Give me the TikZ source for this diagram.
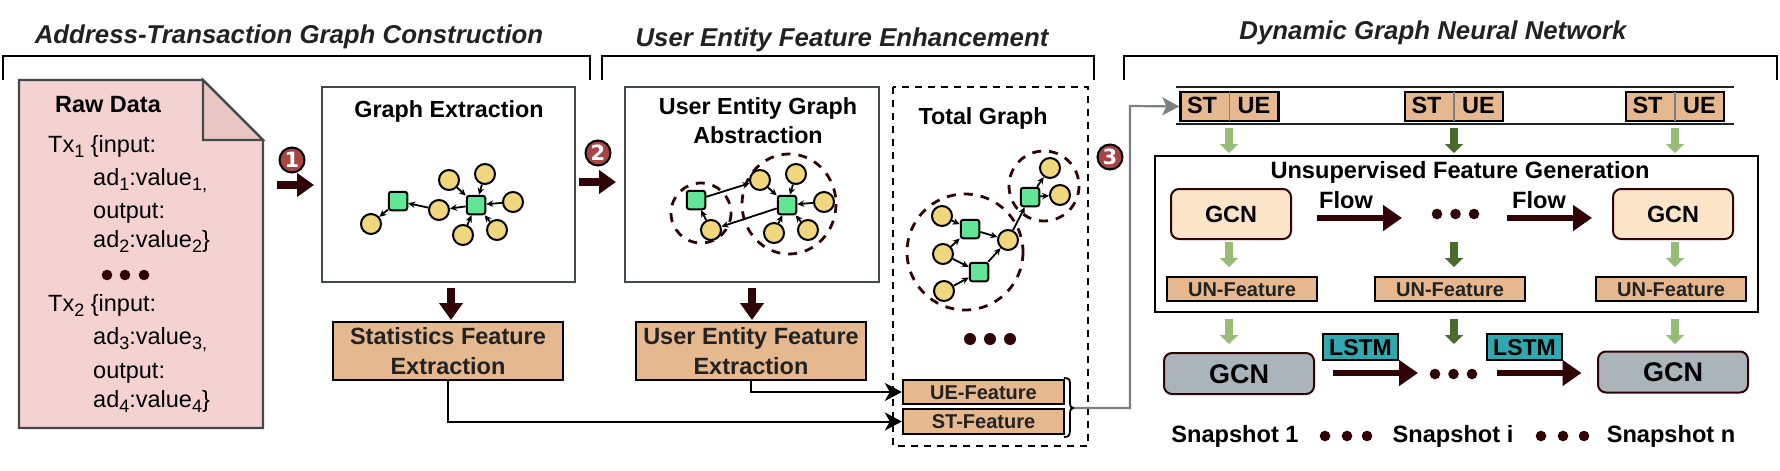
\documentclass[tikz,border=0pt]{standalone}
\usepackage{fontspec}
\setmainfont{Liberation Sans}
\newfontfamily\badgefont{DejaVu Sans}
\usetikzlibrary{arrows.meta}
\definecolor{dkred}{HTML}{300306}
\definecolor{feat}{HTML}{E6B88F}
\definecolor{docpink}{HTML}{F5D2D2}
\definecolor{docfold}{HTML}{E8C6C4}
\definecolor{edgegray}{HTML}{454849}
\definecolor{nodey}{HTML}{F0D67C}
\definecolor{nodeg}{HTML}{62E595}
\definecolor{lgreen}{HTML}{97BC78}
\definecolor{dgreen}{HTML}{4A6B2E}
\definecolor{gcnor}{HTML}{FCE4C8}
\definecolor{gcngr}{HTML}{AAB4B9}
\definecolor{lstmc}{HTML}{2FA8B0}
\definecolor{txtd}{HTML}{222222}
\definecolor{badgered}{HTML}{A84444}
\definecolor{gconnc}{HTML}{7C8084}
\newcommand\fsz[2]{\fontsize{#1}{#2}\selectfont}
\newcommand\subs[1]{\raisebox{-5pt}{\fsz{18}{18}#1}}
\tikzset{
  headtitle/.style={anchor=base,inner sep=0,font=\fsz{25.8}{30}\bfseries\itshape,text=txtd},
  bracketline/.style={line width=2pt,black},
  doctext/.style={anchor=base west,inner sep=0,font=\fsz{23.5}{28}},
  boxtitle/.style={anchor=base,inner sep=0,font=\fsz{23.3}{28}\bfseries},
  panel/.style={draw=edgegray,line width=2.2pt,inner sep=0},
  featbox/.style={draw=black,line width=2.4pt,fill=feat,inner sep=0,align=center,text=txtd,font=\fsz{23.5}{30}\bfseries},
  smallfeat/.style={draw=black,line width=2.4pt,fill=feat,inner sep=0,text=txtd,font=\fsz{20}{24}\bfseries,text height=14pt,text depth=0pt},
  pairbox/.style={draw=black,line width=2.4pt,fill=feat,inner sep=0,minimum width=98,minimum height=29},
  pairtxt/.style={anchor=base,inner sep=0,font=\fsz{23.5}{26}\bfseries,text=black},
  ynode/.style={circle,draw=black,line width=2pt,fill=nodey,minimum size=20,inner sep=0},
  gnode/.style={rectangle,rounded corners=2.5pt,draw=black,line width=2pt,fill=nodeg,minimum size=18.5,inner sep=0},
  edge/.style={line width=1.8pt,black,-{Stealth[length=7pt,width=6.5pt]}},
  grp/.style={dkred,line width=2.8pt,dash pattern=on 9pt off 8pt},
  barrow/.style={dkred,line width=7.5pt,-{Triangle[length=17pt,width=23pt]}},
  longarrow/.style={dkred,line width=6pt,-{Triangle[length=19pt,width=25pt]}},
  lgarrow/.style={lgreen,line width=7.5pt,-{Triangle[length=9pt,width=18pt]}},
  dgarrow/.style={dgreen,line width=7.5pt,-{Triangle[length=9pt,width=18pt]}},
  badge/.style={circle,draw=black,line width=2pt,fill=badgered,minimum size=25,inner sep=0,text=white,font=\badgefont\fsz{21}{24}\bfseries},
  conn/.style={line width=2pt,black,-{Stealth[length=17pt,width=18pt,inset=5pt]}},
  gconn/.style={line width=2.2pt,color=gconnc,-{Stealth[length=17pt,width=18pt,inset=4pt]}},
  gcnA/.style={rectangle,rounded corners=8pt,draw=dkred,line width=2pt,fill=gcnor,minimum width=120,minimum height=50,inner sep=0,font=\fsz{23.4}{28}\bfseries,text height=17pt,text depth=0pt},
  gcnB/.style={rectangle,rounded corners=8pt,draw=dkred,line width=2pt,fill=gcngr,minimum width=150,minimum height=41,inner sep=0,font=\fsz{27}{30}\bfseries,text height=19pt,text depth=0pt},
  lstmbox/.style={draw=black,line width=2.4pt,fill=lstmc,minimum width=75,minimum height=26,inner sep=0,font=\fsz{23}{26}\bfseries,text height=16.5pt,text depth=0pt},
  plainlab/.style={anchor=base,inner sep=0,font=\fsz{23.6}{28}\bfseries},
  dotfill/.style={fill=dkred}
}
\begin{document}
\begin{tikzpicture}[x=1pt,y=-1pt]
\useasboundingbox (0,0) rectangle (1780,471);
% titles and brackets
\node[headtitle] (t1) at (289,43) {Address-Transaction Graph Construction};
\node[headtitle] (t2) at (842,46) {User Entity Feature Enhancement};
\node[headtitle] (t3) at (1433,39) {Dynamic Graph Neural Network};
\draw[bracketline] (3,80) -- (3,56) -- (590,56) -- (590,80);
\draw[bracketline] (602,80) -- (602,56) -- (1094,56) -- (1094,80);
\draw[bracketline] (1124,80) -- (1124,56) -- (1777,56) -- (1777,80);
% raw data document
\draw[edgegray,line width=2.2pt,fill=docpink] (19,80) -- (203,80) -- (263,140) -- (263,428) -- (19,428) -- cycle;
\draw[edgegray,line width=2.2pt,fill=docfold] (203,80) -- (263,140) -- (203,140) -- cycle;
\node[anchor=base,inner sep=0,font=\fsz{23.5}{28}\bfseries] (rawt) at (108,112) {Raw Data};
\node[doctext] (l1) at (48,152) {Tx\subs{1} \{input:};
\node[doctext] (l2) at (93,185) {ad\subs{1}:value\subs{1,}};
\node[doctext] (l3) at (93,218) {output:};
\node[doctext] (l4) at (93,247) {ad\subs{2}:value\subs{2}\}};
\foreach \x in {107,125,144} \fill[dotfill] (\x,275) circle (5.3);
\node[doctext] (l5) at (48,311) {Tx\subs{2} \{input:};
\node[doctext] (l6) at (93,344) {ad\subs{3}:value\subs{3,}};
\node[doctext] (l7) at (93,378) {output:};
\node[doctext] (l8) at (93,407) {ad\subs{4}:value\subs{4}\}};
% graph extraction
\node[panel,minimum width=253,minimum height=195] (gbox) at (448.5,184.5) {};
\node[boxtitle] (gtitle) at (449,117) {Graph Extraction};
\node[ynode] (a1) at (449,180) {};
\node[ynode] (a2) at (485,174) {};
\node[ynode] (a3) at (513,202) {};
\node[ynode] (a4) at (497,230) {};
\node[ynode] (a5) at (463,235) {};
\node[ynode] (a6) at (439,210) {};
\node[ynode] (a7) at (371,224) {};
\node[gnode] (as1) at (476,205) {};
\node[gnode] (as2) at (398,201) {};
\foreach \s/\t in {a1/as1,a2/as1,a3/as1,a4/as1,a5/as1,as1/a6,a6/as2,as2/a7} \draw[edge] (\s) -- (\t);
% user entity abstraction
\node[panel,minimum width=254,minimum height=195] (ubox) at (752,184.5) {};
\node[boxtitle] (ut1) at (758,114) {User Entity Graph};
\node[boxtitle] (ut2) at (758,143) {Abstraction};
\draw[grp] (701,213) ellipse (30 and 30);
\draw[grp] (789,204) ellipse (47 and 50);
\node[gnode] (bs1) at (696,200) {};
\node[ynode] (b0) at (711,230) {};
\node[ynode] (b1) at (760,180) {};
\node[ynode] (b2) at (796,174) {};
\node[ynode] (b3) at (824,202) {};
\node[ynode] (b4) at (808,230) {};
\node[ynode] (b5) at (774,233) {};
\node[gnode] (bs2) at (787,205) {};
\foreach \s/\t in {bs1/b1,b1/bs2,b2/bs2,b3/bs2,b4/bs2,b5/bs2,bs2/b0,b0/bs1} \draw[edge] (\s) -- (\t);
% total graph
\draw[black,line width=1.8pt,dash pattern=on 7pt off 6pt] (893,87) rectangle (1088,446);
\node[boxtitle] (tt) at (983,124) {Total Graph};
\draw[grp] (965,252) ellipse (58 and 58);
\draw[grp] (1044,186) ellipse (35 and 35);
\node[ynode] (c1) at (942,216) {};
\node[ynode] (c2) at (943,254) {};
\node[ynode] (c3) at (944,291) {};
\node[ynode] (c4) at (1008,240) {};
\node[ynode] (c5) at (1050,168) {};
\node[ynode] (c6) at (1060,195) {};
\node[gnode] (cs1) at (970,229) {};
\node[gnode] (cs2) at (979,272) {};
\node[gnode] (cs3) at (1030,197) {};
\foreach \s/\t in {c1/cs1,c2/cs1,cs1/c4,c2/cs2,c3/cs2,cs2/c4,c4/cs3,cs3/c5,cs3/c6} \draw[edge] (\s) -- (\t);
\foreach \x in {970,990,1010} \fill[dotfill] (\x,339) circle (6);
% feature boxes
\node[featbox,minimum width=230,minimum height=58] (statbox) at (448,351) {Statistics Feature\\Extraction};
\node[featbox,minimum width=230,minimum height=58] (uebox) at (751,351) {User Entity Feature\\Extraction};
\node[smallfeat,minimum width=161,minimum height=24] (uefeat) at (983.5,392) {UE-Feature};
\node[smallfeat,minimum width=161,minimum height=25] (stfeat) at (983.5,421.5) {ST-Feature};
\draw[conn] (statbox.south) |- (stfeat.west);
\draw[conn] (uebox.south) |- (uefeat.west);
% brace and grey connector
\coordinate (btip) at (1074,408);
\coordinate (gx) at (1130,106);
\draw[black,line width=1.8pt] (1064,378) .. controls (1070,378) and (1070,380) .. (1070,386) -- (1070,402) .. controls (1070,407) and (1071,408) .. (btip) .. controls (1071,408) and (1070,409) .. (1070,414) -- (1070,430) .. controls (1070,436) and (1068,437) .. (1064,437);
% block arrows and badges
\coordinate (ar1s) at (277,185); \coordinate (ar1e) at (314,185);
\coordinate (ar2s) at (579,182); \coordinate (ar2e) at (616,182);
\coordinate (ar3s) at (451,288); \coordinate (ar3e) at (451,320);
\coordinate (ar4s) at (752,288); \coordinate (ar4e) at (752,320);
\foreach \s/\t in {ar1s/ar1e,ar2s/ar2e,ar3s/ar3e,ar4s/ar4e} \draw[barrow] (\s) -- (\t);
\node[badge] (bd1) at (292,160) {1};
\node[badge] (bd2) at (598,153) {2};
\node[badge] (bd3) at (1110,157) {3};
% dynamic graph neural network
\draw[txtd,line width=2.4pt] (1176,87) -- (1734,87);
\draw[txtd,line width=2.4pt] (1176,124) -- (1734,124);
\node[pairbox] (p1) at (1229.5,106.5) {};
\node[pairbox] (p2) at (1454,106.5) {};
\node[pairbox] (p3) at (1675,106.5) {};
\foreach \p/\x in {p1/1229.5,p2/1454,p3/1675} {
  \draw[gconnc,line width=1.6pt] ([yshift=-1pt]\p.north) -- ([yshift=1pt]\p.south);
  \node[pairtxt] at (\x-27.5,113) {ST};
  \node[pairtxt] at (\x+24.5,113) {UE};
}
\draw[gconn] (btip) -| (gx) -- (p1.west);
\node[draw=black,line width=2.6pt,inner sep=0,minimum width=603,minimum height=156] (unsup) at (1456.5,234) {};
\node[boxtitle,font=\fsz{23.6}{28}\bfseries] (utitle) at (1460,178) {Unsupervised Feature Generation};
\node[gcnA] (g1) at (1231,214) {GCN};
\node[gcnA] (g2) at (1673,214) {GCN};
\node[plainlab] (fl1) at (1346,208) {Flow};
\node[plainlab] (fl2) at (1539,208) {Flow};
\coordinate (f1s) at (1317,218); \coordinate (f1e) at (1402,218);
\coordinate (f2s) at (1507,218); \coordinate (f2e) at (1592,218);
\draw[longarrow] (f1s) -- (f1e);
\draw[longarrow] (f2s) -- (f2e);
\foreach \x in {1437,1455.5,1474} \fill[dotfill] (\x,214) circle (5.3);
\node[smallfeat,minimum width=150,minimum height=24] (un1) at (1242,289) {UN-Feature};
\node[smallfeat,minimum width=150,minimum height=24] (un2) at (1450,289) {UN-Feature};
\node[smallfeat,minimum width=150,minimum height=24] (un3) at (1671,289) {UN-Feature};
\node[gcnB] (h1) at (1239,373.5) {GCN};
\node[gcnB] (h2) at (1673,372) {GCN};
\node[lstmbox] (ls1) at (1360.5,347) {LSTM};
\node[lstmbox] (ls2) at (1524.5,347) {LSTM};
\coordinate (l1s) at (1333,373); \coordinate (l1e) at (1418,373);
\coordinate (l2s) at (1497,373); \coordinate (l2e) at (1581.5,373);
\draw[longarrow] (l1s) -- (l1e);
\draw[longarrow] (l2s) -- (l2e);
\foreach \x in {1435,1453.5,1472} \fill[dotfill] (\x,374) circle (5.3);
% green arrows
\foreach \x/\st in {1229/lgarrow,1454/dgarrow,1675/lgarrow} {
  \coordinate (ga) at (\x,128); \coordinate (gb) at (\x,153);
  \draw[\st] (ga) -- (gb);
  \coordinate (ga) at (\x,242); \coordinate (gb) at (\x,267);
  \draw[\st] (ga) -- (gb);
  \coordinate (ga) at (\x,319); \coordinate (gb) at (\x,344);
  \draw[\st] (ga) -- (gb);
}
% snapshots
\node[plainlab] (sn1) at (1235,442) {Snapshot 1};
\node[plainlab] (sn2) at (1453,442) {Snapshot i};
\node[plainlab] (sn3) at (1671,442) {Snapshot n};
\foreach \x in {1325,1347,1367,1541,1563,1584} \fill[dotfill] (\x,436) circle (5.3);
\end{tikzpicture}
\end{document}
